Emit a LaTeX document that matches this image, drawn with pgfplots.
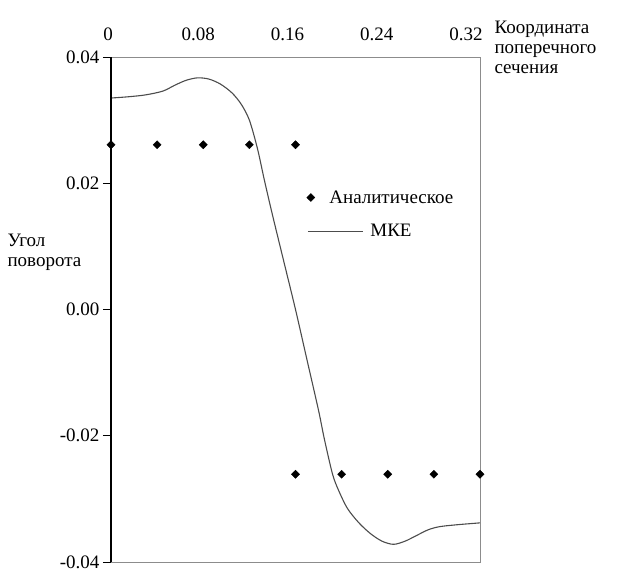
\documentclass[border=0pt]{standalone}
\usepackage{pgfplots}
\pgfplotsset{compat=1.18}
\usepackage{fontspec}
\setmainfont{Liberation Serif}

\pgfplotsset{
    dotlegend/.style={legend image code/.code={\draw[##1] plot coordinates {(3pt,0pt)};}},
    linelegend/.style={legend image code/.code={\draw[##1] (0pt,0pt) -- (55pt,0pt);}},
}

\begin{document}
\begin{tikzpicture}
\begin{axis}[
    scale only axis,
    width=369pt, height=505pt,
    xmin=0, xmax=0.32,
    ymin=-0.04, ymax=0.04,
    clip=false,
    scaled x ticks=false, scaled y ticks=false,
    axis line style={black!45, line width=1pt},
    % подписи сверху стоят чуть левее узлов, как на исходном рисунке
    xtick={0,0.0757,0.1530,0.2304,0.3078},
    xticklabels={\hspace*{-6pt}0,0.08,0.16,0.24,0.32},
    xticklabel pos=upper,
    xtick style={draw=none},
    xticklabel style={yshift=5pt},
    ytick={-0.04,-0.02,0,0.02,0.04},
    yticklabels={-0.04,-0.02,0.00,0.02,0.04},
    ytick pos=left,
    tick align=outside,
    major tick length=8pt,
    ytick style={black, line width=1pt},
    tick label style={font=\fontsize{19}{22}\selectfont},
    legend style={at={(axis cs:0.1696,0.0192)}, anchor=north west,
        draw=none, fill=none, inner sep=0pt, row sep=16pt,
        font=\fontsize{19}{22}\selectfont},
    legend cell align=left,
]
% аналитическое решение
\addplot[only marks, mark=diamond*, mark size=4pt,
    mark options={xscale=1.35, fill=black, draw=black}, dotlegend]
    coordinates {(0,0.0261) (0.04,0.0261) (0.08,0.0261) (0.12,0.0261) (0.16,0.0261)
                 (0.16,-0.0261) (0.20,-0.0261) (0.24,-0.0261) (0.28,-0.0261) (0.32,-0.0261)};
\addlegendentry{\hspace{-36pt}Аналитическое}
% МКЭ
\addplot[black!70, line width=1.1pt, smooth, linelegend]
    coordinates {
    (0,0.0335) (0.015,0.0337) (0.03,0.0340) (0.045,0.0346) (0.055,0.0355)
    (0.065,0.0363) (0.075,0.0367) (0.085,0.0365) (0.095,0.0357) (0.105,0.0343)
    (0.113,0.0325) (0.120,0.0300) (0.127,0.0255) (0.133,0.0205) (0.140,0.0150)
    (0.150,0.0075) (0.160,0.0000) (0.170,-0.0080) (0.180,-0.0160) (0.185,-0.0205)
    (0.192,-0.0260) (0.197,-0.0285) (0.205,-0.0315) (0.215,-0.0338) (0.225,-0.0355)
    (0.235,-0.0367) (0.245,-0.0372) (0.255,-0.0367) (0.265,-0.0358) (0.275,-0.0349)
    (0.285,-0.0344) (0.300,-0.0341) (0.320,-0.0338)};
\addlegendentry{\hspace{5pt}МКЕ}
\draw[black, line width=1.3pt] (axis cs:0,-0.04) -- (axis cs:0,0.04);
\end{axis}
\node[anchor=west, align=left, font=\fontsize{19}{20}\selectfont] at (-107pt,310pt) {Угол\\поворота};
\node[anchor=west, align=left, font=\fontsize{19}{20}\selectfont] at (380pt,515pt) {Координата\\поперечного\\сечения};
\pgfresetboundingbox
\path (-111pt,-6pt) rectangle (512pt,562pt);
\end{tikzpicture}
\end{document}
